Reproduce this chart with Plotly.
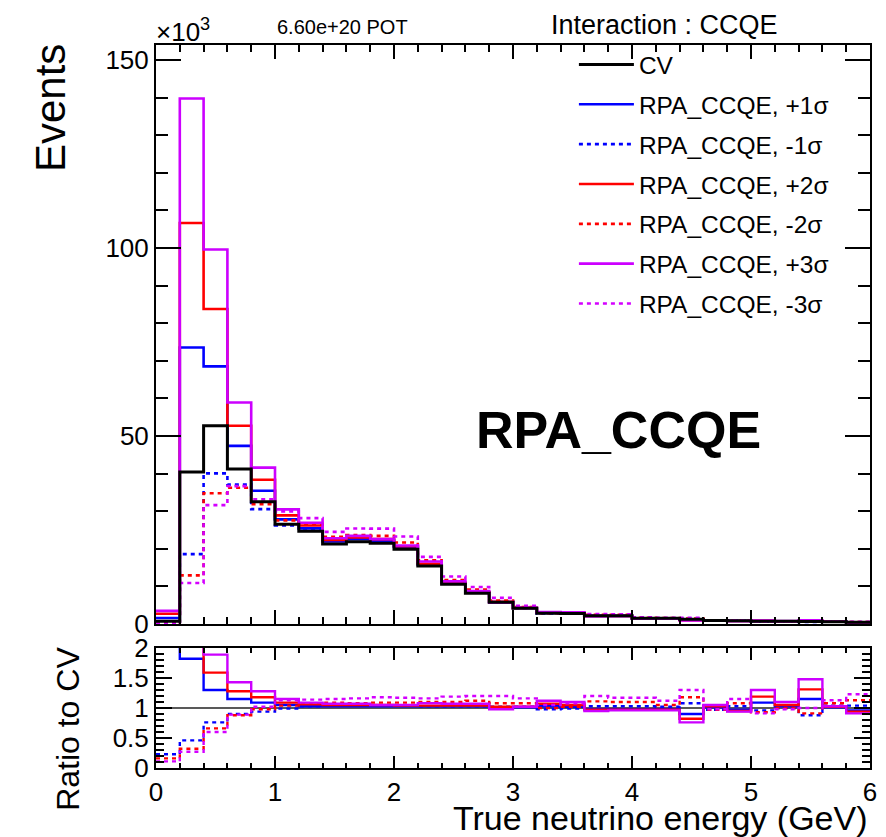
import plotly.graph_objects as go

# ---------------- data ----------------
bin_edges = [0.0, 0.2, 0.4, 0.6, 0.8, 1.0, 1.2, 1.4, 1.6, 1.8, 2.0, 2.2, 2.4, 2.6, 2.8, 3.0,
             3.2, 3.4, 3.6, 3.8, 4.0, 4.2, 4.4, 4.6, 4.8, 5.0, 5.2, 5.4, 5.6, 5.8, 6.0]

# CV events (in units of 10^3)
cv_k = [0.7, 40.4, 52.7, 41.2, 32.5, 26.5, 24.7, 21.3, 21.9, 21.5,
        19.9, 15.4, 10.6, 8.2, 5.8, 4.2, 2.85, 2.8, 2.2, 2.2,
        1.5, 1.5, 1.25, 0.9, 0.85, 0.7, 0.7, 0.65, 0.6, 0.45]

# ratio to CV for each variation
ratio_p1 = [2.3, 1.82, 1.30, 1.15, 1.09, 1.05, 1.03, 1.03, 1.03, 1.03,
            1.03, 1.03, 1.03, 1.03, 1.01, 1.01, 1.03, 1.02, 0.98, 0.98,
            0.98, 0.98, 0.90, 1.01, 0.97, 1.09, 1.03, 1.15, 1.01, 0.96]
ratio_m1 = [0.23, 0.46, 0.76, 0.90, 0.94, 0.99, 1.03, 1.04, 1.04, 1.04,
            1.04, 1.03, 1.03, 1.03, 1.02, 1.02, 0.98, 0.99, 1.03, 1.03,
            1.03, 1.02, 1.08, 0.97, 1.03, 0.96, 1.00, 0.88, 1.04, 1.04]
ratio_p2 = [3.9, 2.64, 1.59, 1.28, 1.18, 1.09, 1.06, 1.05, 1.05, 1.05,
            1.04, 1.04, 1.04, 1.04, 1.02, 1.02, 1.07, 1.05, 0.97, 0.97,
            0.97, 0.97, 0.82, 1.03, 0.95, 1.19, 1.05, 1.31, 1.02, 0.94]
ratio_m2 = [0.16, 0.32, 0.66, 0.88, 0.98, 1.04, 1.08, 1.09, 1.08, 1.09,
            1.09, 1.10, 1.10, 1.12, 1.08, 1.08, 1.00, 1.02, 1.11, 1.10,
            1.10, 1.05, 1.18, 0.97, 1.08, 0.93, 1.00, 0.91, 1.08, 1.13]
ratio_p3 = [5.0, 3.46, 1.89, 1.43, 1.28, 1.15, 1.09, 1.07, 1.07, 1.05,
            1.05, 1.08, 1.07, 1.07, 0.98, 1.02, 1.12, 1.10, 0.95, 0.96,
            0.96, 0.96, 0.76, 1.05, 0.94, 1.30, 1.10, 1.48, 1.03, 0.91]
ratio_m3 = [0.11, 0.27, 0.60, 0.89, 1.02, 1.13, 1.14, 1.15, 1.16, 1.18,
            1.17, 1.16, 1.19, 1.20, 1.20, 1.16, 1.05, 1.08, 1.20, 1.17,
            1.17, 1.12, 1.30, 0.98, 1.15, 0.91, 0.98, 1.00, 1.13, 1.23]

variations = [
    ("RPA_CCQE, +1σ", ratio_p1, "#0000ff", "solid"),
    ("RPA_CCQE, -1σ", ratio_m1, "#0000ff", "4px,4px"),
    ("RPA_CCQE, +2σ", ratio_p2, "#ff0000", "solid"),
    ("RPA_CCQE, -2σ", ratio_m2, "#ff0000", "4px,4px"),
    ("RPA_CCQE, +3σ", ratio_p3, "#cc00ff", "solid"),
    ("RPA_CCQE, -3σ", ratio_m3, "#d400ff", "4px,4px"),
]

y_ticks_top = [0, 50, 100, 150]
y_ticks_ratio = [0, 0.5, 1, 1.5, 2]
x_ticks = [0, 1, 2, 3, 4, 5, 6]

FONT = "Liberation Sans, Arial, Helvetica, sans-serif"


def step(vals):
    return list(vals) + [vals[-1]]


fig = go.Figure()

# ratio CV reference line (CV / CV)
fig.add_trace(go.Scatter(x=bin_edges, y=step([c / c for c in cv_k]), mode="lines",
                         line=dict(color="#222222", width=1.5, shape="hv"),
                         xaxis="x2", yaxis="y2", showlegend=False, hoverinfo="skip"))

for i, (name, ratio, color, dash) in enumerate(variations):
    counts = [c * r for c, r in zip(cv_k, ratio)]
    fig.add_trace(go.Scatter(x=bin_edges, y=step(counts), mode="lines", name=name,
                             line=dict(color=color, width=2.6, dash=dash, shape="hv"),
                             xaxis="x", yaxis="y", legendgroup=name, legendrank=i + 2))
    fig.add_trace(go.Scatter(x=bin_edges, y=step(ratio), mode="lines", name=name,
                             line=dict(color=color, width=2.4, dash=dash, shape="hv"),
                             xaxis="x2", yaxis="y2", showlegend=False, legendgroup=name))

fig.add_trace(go.Scatter(x=bin_edges, y=step(cv_k), mode="lines", name="CV",
                         line=dict(color="black", width=3, shape="hv"),
                         xaxis="x", yaxis="y", legendgroup="CV", legendrank=1))

W, H = 886, 837
L, R, T, B = 156, 9, 45, 69
PW, PH = W - L - R, H - T - B


def px(xp):
    return (xp - L) / PW


def py(yp):
    return (H - B - yp) / PH


axis_common = dict(showline=True, linecolor="black", linewidth=2, mirror="allticks",
                   ticks="inside", tickcolor="black", tickwidth=1.5, showgrid=False,
                   zeroline=False, tickfont=dict(family=FONT, size=26, color="black"))

fig.update_layout(
    width=W, height=H,
    margin=dict(l=L, r=R, t=T, b=B),
    paper_bgcolor="white", plot_bgcolor="white",
    font=dict(family=FONT, color="black"),
    showlegend=True,
    legend=dict(x=px(578), y=py(42), xanchor="left", yanchor="top",
                font=dict(family=FONT, size=24.5, color="black"),
                bgcolor="rgba(0,0,0,0)", traceorder="grouped", tracegroupgap=5,
                itemwidth=55),
    xaxis=dict(domain=[0, 1], range=[0, 6], anchor="y", tickvals=x_ticks,
               showticklabels=False, ticklen=14,
               minor=dict(ticks="inside", dtick=0.2, ticklen=7, tickcolor="black", showgrid=False),
               **axis_common),
    yaxis=dict(domain=[py(624), 1], range=[0, 154], anchor="x", tickvals=y_ticks_top,
               ticktext=[str(v) for v in y_ticks_top], ticklen=25,
               minor=dict(ticks="inside", dtick=10, ticklen=12, tickcolor="black", showgrid=False),
               **axis_common),
    xaxis2=dict(domain=[0, 1], range=[0, 6], anchor="y2", tickvals=x_ticks,
                ticktext=[str(v) for v in x_ticks], ticklen=12,
                minor=dict(ticks="inside", dtick=0.2, ticklen=5, tickcolor="black", showgrid=False),
                **axis_common),
    yaxis2=dict(domain=[0, py(648)], range=[0, 2], anchor="x2", tickvals=y_ticks_ratio,
                ticktext=["0", "0.5", "1", "1.5", "2"], ticklen=16,
                minor=dict(ticks="inside", dtick=0.1, ticklen=8, tickcolor="black", showgrid=False),
                **axis_common),
)

ann = [
    dict(text="×10<sup>3</sup>", x=px(154), y=py(30), xanchor="left", yanchor="middle",
         font=dict(size=26)),
    dict(text="6.60e+20 POT", x=px(344), y=py(27), xanchor="center", yanchor="middle",
         font=dict(size=20)),
    dict(text="Interaction : CCQE", x=px(669), y=py(25), xanchor="center", yanchor="middle",
         font=dict(size=27)),
    dict(text="<b>RPA_CCQE</b>", x=px(623), y=py(430), xanchor="center", yanchor="middle",
         font=dict(size=52)),
    dict(text="Events", x=px(49), y=py(108), xanchor="center", yanchor="middle",
         textangle=-90, font=dict(size=42)),
    dict(text="Ratio to CV", x=px(67), y=py(729), xanchor="center", yanchor="middle",
         textangle=-90, font=dict(size=32)),
    dict(text="True neutrino energy (GeV)", x=1.0, y=py(818), xanchor="right",
         yanchor="middle", font=dict(size=34)),
]
for a in ann:
    a.update(xref="paper", yref="paper", showarrow=False)
    a["font"].update(family=FONT, color="black")
fig.update_layout(annotations=ann)

fig.write_html("out.html")
